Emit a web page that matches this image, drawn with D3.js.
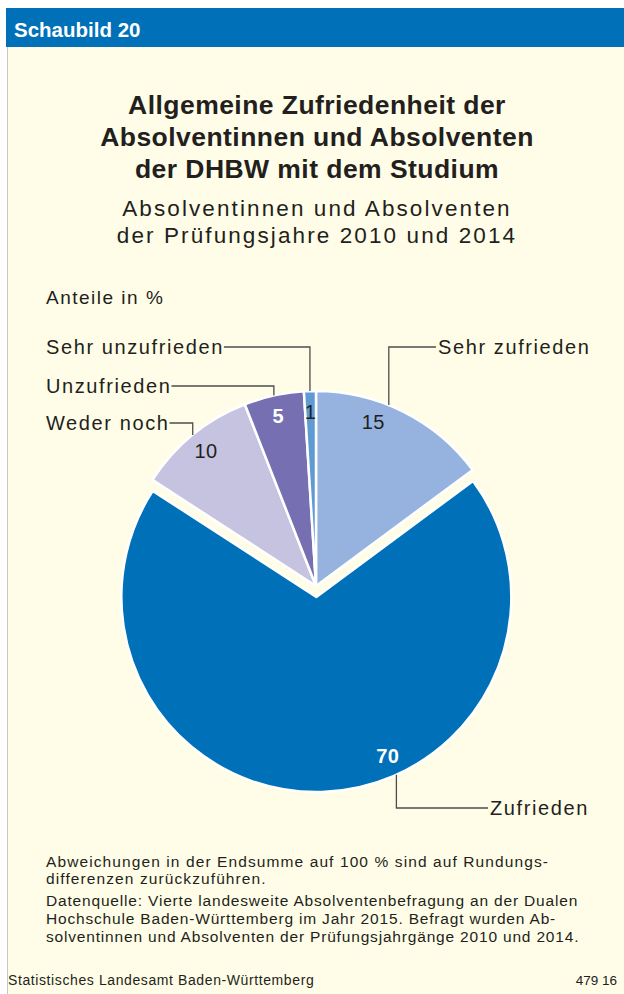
<!DOCTYPE html>
<html>
<head>
<meta charset="utf-8">
<script src="https://cdn.jsdelivr.net/npm/d3@7"></script>
<style>
  body { margin: 0; background: #fff; }
  svg text { font-family: "Liberation Sans", Arial, sans-serif; fill: #231f20; }
</style>
</head>
<body>
<div id="chart"></div>
<script>
// data
var categories = ["Sehr zufrieden", "Zufrieden", "Weder noch", "Unzufrieden", "Sehr unzufrieden"];
var shares = [15, 70, 10, 5, 1];
var colors = ["#95b3de", "#0071b9", "#c6c3e1", "#7670b2", "#5f9bd3"];
var titleLines = ["Allgemeine Zufriedenheit der", "Absolventinnen und Absolventen", "der DHBW mit dem Studium"];
var subtitleLines = ["Absolventinnen und Absolventen", "der Prüfungsjahre 2010 und 2014"];
var noteLines = [
  "Abweichungen in der Endsumme auf 100 % sind auf Rundungs-",
  "differenzen zurückzuführen."
];
var sourceLines = [
  "Datenquelle: Vierte landesweite Absolventenbefragung an der Dualen",
  "Hochschule Baden-Württemberg im Jahr 2015. Befragt wurden Ab-",
  "solventinnen und Absolventen der Prüfungsjahrgänge 2010 und 2014."
];

var width = 624, height = 994;
var cx = 316, cy = 586, radius = 195;

var svg = d3.select("#chart")
    .append("svg")
        .attr("width", width)
        .attr("height", height);

// background + header
svg.append("rect").attr("x", 7).attr("y", 8).attr("width", width - 7).attr("height", height - 8)
    .style("fill", "#fffde7");
svg.append("line").attr("x1", 7.5).attr("x2", 7.5).attr("y1", 47).attr("y2", height)
    .style("stroke", "#c8c8c8").style("stroke-width", 1);
svg.append("rect").attr("x", 6).attr("y", 8).attr("width", width - 6).attr("height", 39)
    .style("fill", "#0071b9");
svg.append("text").attr("x", 14).attr("y", 37)
    .style("fill", "#fff").style("font-weight", "bold").style("font-size", "20.5px")
    .text("Schaubild 20");

// titles
svg.selectAll(".title").data(titleLines).enter().append("text")
    .attr("class", "title")
    .attr("x", 317).attr("y", function (d, i) { return 114 + i * 32; })
    .attr("text-anchor", "middle")
    .style("font-weight", "bold").style("font-size", "26.5px").style("letter-spacing", "0.45px")
    .text(function (d) { return d; });
svg.selectAll(".subtitle").data(subtitleLines).enter().append("text")
    .attr("class", "subtitle")
    .attr("x", 317).attr("y", function (d, i) { return 216 + i * 27; })
    .attr("text-anchor", "middle")
    .style("font-size", "22.5px").style("letter-spacing", "2.1px")
    .text(function (d) { return d; });
svg.append("text").attr("x", 46).attr("y", 304)
    .style("font-size", "19px").style("letter-spacing", "1.5px")
    .text("Anteile in %");

// pie
var pie = d3.pie().sort(null).value(function (d) { return d; });
var arcs = pie(shares);
var arc = d3.arc().innerRadius(0).outerRadius(radius);
var explode = [0, 11, 0, 0, 0];
// where along each slice the leader line meets the rim (0..1)
var anchorAt = [0.41, 0.41, 0.5, 0.5, 0.5];

var g = svg.append("g");
g.selectAll(".slice").data(arcs).enter().append("path")
    .attr("class", "slice")
    .attr("d", arc)
    .attr("transform", function (d, i) {
        var a = (d.startAngle + d.endAngle) / 2;
        return "translate(" + (cx + Math.sin(a) * explode[i]) + "," + (cy - Math.cos(a) * explode[i]) + ")";
    })
    .style("fill", function (d, i) { return colors[i]; })
    .style("stroke", "#fff").style("stroke-width", 2.5).style("stroke-linejoin", "round");

function anchorAngle(d, i) {
    return d.startAngle + (d.endAngle - d.startAngle) * anchorAt[i];
}
function center(d, i) {
    var a = (d.startAngle + d.endAngle) / 2;
    return [cx + Math.sin(a) * explode[i], cy - Math.cos(a) * explode[i]];
}

// value labels
var valAt = [0.36, 0.41, 0.5, 0.5, 0.5];
g.selectAll(".val").data(arcs).enter().append("text")
    .attr("class", "val")
    .attr("x", function (d, i) {
        var a = d.startAngle + (d.endAngle - d.startAngle) * valAt[i];
        return center(d, i)[0] + Math.sin(a) * 174;
    })
    .attr("y", function (d, i) {
        var a = d.startAngle + (d.endAngle - d.startAngle) * valAt[i];
        return center(d, i)[1] - Math.cos(a) * 174 + 7;
    })
    .attr("text-anchor", "middle")
    .style("font-size", "20px").style("letter-spacing", "0.5px")
    .style("font-weight", function (d, i) { return (i === 1 || i === 3) ? "bold" : "normal"; })
    .style("fill", function (d, i) { return (i === 1 || i === 3) ? "#fff" : "#231f20"; })
    .text(function (d) { return d.data; });

// category labels with leader lines
var labelRow = [347, 808, 423, 386, 347];
var labelSide = ["right", "right", "left", "left", "left"];
var labelX = [438, 490, 46, 46, 46];

arcs.forEach(function (d, i) {
    var a = anchorAngle(d, i), c = center(d, i);
    var ex = c[0] + Math.sin(a) * radius, ey = c[1] - Math.cos(a) * radius;
    var t = svg.append("text")
        .attr("x", labelX[i]).attr("y", labelRow[i] + 7)
        .style("font-size", "20px").style("letter-spacing", "1.6px")
        .text(categories[i]);
    var tx;
    if (labelSide[i] === "left") tx = labelX[i] + t.node().getBBox().width;
    else tx = labelX[i] - 2;
    svg.append("path")
        .attr("d", "M" + tx + "," + labelRow[i] + "H" + ex + "V" + ey)
        .style("fill", "none").style("stroke", "#4d4d4d").style("stroke-width", 1.3);
});

// notes
svg.selectAll(".note").data(noteLines).enter().append("text")
    .attr("class", "note")
    .attr("x", 46).attr("y", function (d, i) { return 867 + i * 17; })
    .style("font-size", "15.5px").style("letter-spacing", "1.1px")
    .text(function (d) { return d; });
svg.selectAll(".source").data(sourceLines).enter().append("text")
    .attr("class", "source")
    .attr("x", 46).attr("y", function (d, i) { return 906 + i * 18; })
    .style("font-size", "15.5px").style("letter-spacing", "0.82px")
    .text(function (d) { return d; });

svg.append("text").attr("x", 8).attr("y", 985).style("font-size", "14px").style("letter-spacing", "0.6px")
    .text("Statistisches Landesamt Baden-Württemberg");
svg.append("text").attr("x", 617).attr("y", 985).attr("text-anchor", "end").style("font-size", "13.5px")
    .text("479 16");
</script>
</body>
</html>
